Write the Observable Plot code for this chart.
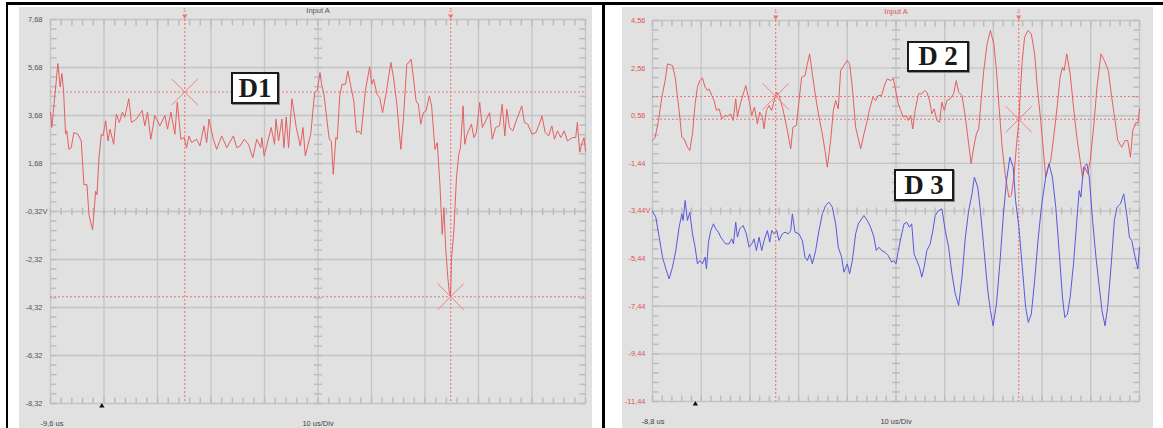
<!DOCTYPE html>
<html>
<head>
<meta charset="utf-8">
<script src="https://cdn.jsdelivr.net/npm/d3@7"></script>
<script src="https://cdn.jsdelivr.net/npm/@observablehq/plot@0.6"></script>
<style>
  body { margin: 0; background: #fff; }
  #wrap { position: relative; width: 1163px; height: 428px; overflow: hidden; font-family: "Liberation Sans", Arial, sans-serif; }
  .panel { position: absolute; top: 7px; height: 421px; background: #e1e1e1; }
  .panel svg { display: block; overflow: visible; }
  .bar { position: absolute; background: #000; }
  .tag { position: absolute; box-sizing: border-box; background: #fff; border: 2px solid #1a1a1a;
         font-family: "Liberation Serif", "Times New Roman", serif; font-weight: bold; font-size: 27px;
         color: #1a1a1a; display: flex; align-items: center; justify-content: center; line-height: 1;
         box-shadow: 1px 1px 0 #888; }
</style>
</head>
<body>
<div id="wrap">
  <div class="bar" style="left:6px;top:2px;width:1157px;height:3px;"></div>
  <div class="bar" style="left:6px;top:2px;width:2px;height:426px;"></div>
  <div class="bar" style="left:602px;top:2px;width:3px;height:426px;"></div>
  <div class="panel" id="left" style="left:19px;width:573px;"></div>
  <div class="panel" id="right" style="left:622px;width:531px;"></div>
  <div class="tag" style="left:231px;top:72px;width:48px;height:32px;">D1</div>
  <div class="tag" style="left:907px;top:41px;width:62px;height:31px;">D 2</div>
  <div class="tag" style="left:894px;top:169px;width:60px;height:32px;">D 3</div>
</div>
<script>
// ---------- axis ticks (divisions) ----------
const leftYTicks  = [7.68, 5.68, 3.68, 1.68, -0.32, -2.32, -4.32, -6.32, -8.32];
const leftXDivs   = [-9.6, 0.4, 10.4, 20.4, 30.4, 40.4, 50.4, 60.4, 70.4, 80.4, 90.4];
const rightYTicks = [4.56, 2.56, 0.56, -1.44, -3.44, -5.44, -7.44, -9.44, -11.44];
const rightXDivs  = [-8.8, 1.2, 11.2, 21.2, 31.2, 41.2, 51.2, 61.2, 71.2, 81.2, 91.2];
const leftStartLabel = "-9,6 us";
const rightStartLabel = "-8,8 us";
const divLabel = "10 us/Div";
const channelTitle = "Input A";

// ---------- cursors ----------
const leftCursorTimes  = [15.5, 65.2];
const leftCursorVolts  = [4.66, -3.87];
const rightCursorTimes = [16.5, 66.4];
const rightCursorVolts = [1.37, 0.41];
const leftCursorPoints  = [[15.5, 4.66], [65.2, -3.87]];
const rightCursorPoints = [[16.5, 1.37], [66.4, 0.41]];
const cursorNames = ["1", "2"];
const triggerTime = [0];

// ---------- traces [time us, volts] ----------
const d1 = [
[-9.6,3.82],[-9.35,3.18],[-8.22,5.85],[-7.79,4.87],[-7.47,5.43],[-7.16,4.73],[-6.79,2.90],[-6.54,3.04],
[-6.16,2.27],[-5.73,2.34],[-5.23,2.97],[-4.48,2.90],[-3.85,2.62],[-3.35,0.80],[-2.79,0.80],[-2.41,-0.46],
[-1.73,-1.09],[-1.16,0.52],[-0.91,0.38],[-0.54,1.92],[-0.10,2.90],[0.21,2.83],[0.71,3.46],[1.15,2.62],
[1.53,3.11],[2.21,2.48],[2.71,3.74],[3.28,3.39],[3.84,3.82],[4.28,3.61],[5.03,4.38],[5.53,3.39],
[6.46,3.53],[7.53,3.89],[8.03,3.25],[8.53,3.82],[9.15,2.69],[9.90,3.68],[10.84,3.25],[11.78,3.68],
[12.28,3.11],[12.90,3.82],[13.65,2.90],[14.09,4.24],[14.78,2.69],[15.40,2.76],[15.84,2.34],[16.28,2.83],
[16.78,2.55],[17.71,2.69],[18.34,2.41],[19.09,3.25],[19.59,2.55],[20.03,3.53],[20.84,2.69],[21.46,2.27],
[22.40,2.83],[23.34,2.34],[24.59,2.83],[25.21,2.34],[25.84,2.41],[26.59,2.69],[27.40,2.48],[28.21,1.92],
[28.96,2.69],[29.71,2.34],[29.90,2.76],[30.34,1.99],[31.65,3.18],[32.28,2.48],[32.53,3.53],[33.03,2.62],
[33.65,3.53],[34.03,2.34],[34.46,3.61],[34.90,2.34],[35.53,4.38],[36.34,3.18],[37.09,2.41],[37.59,3.18],
[38.03,1.99],[38.78,2.69],[39.04,2.90],[39.78,4.64],[40.28,4.73],[40.77,5.47],[41.08,4.98],[41.51,4.57],
[42.01,3.59],[42.51,2.69],[42.88,2.62],[43.25,1.23],[43.74,2.76],[43.99,2.69],[44.49,4.57],[44.92,4.98],
[45.54,4.98],[45.97,5.54],[46.47,4.98],[47.09,4.29],[47.58,2.97],[48.02,3.04],[48.45,2.90],[49.25,4.71],
[50.06,5.71],[50.43,4.98],[50.80,5.19],[51.42,4.57],[51.92,4.43],[52.47,3.80],[53.16,4.64],[54.02,5.89],
[54.52,5.26],[55.14,4.15],[55.88,2.27],[56.38,3.59],[57.00,5.82],[57.43,5.89],[57.80,6.03],[58.23,5.26],
[58.73,4.29],[59.16,4.15],[59.60,3.32],[60.09,3.80],[60.59,3.87],[61.21,4.50],[61.64,4.08],[62.26,2.27],
[62.69,2.55],[63.19,0.81],[63.62,-1.27],[63.93,-0.16],[64.30,-1.97],[64.67,-3.08],[64.92,-3.64],[65.17,-3.89],
[65.36,-2.25],[65.79,-1.13],[66.28,1.09],[66.72,2.06],[67.03,2.34],[67.52,4.08],[67.83,2.48],[68.26,2.90],
[69.07,3.32],[69.56,2.76],[70.00,2.97],[70.62,4.22],[71.11,3.18],[71.73,3.45],[72.48,3.80],[72.97,2.69],
[73.59,3.18],[74.33,3.25],[74.83,4.15],[75.32,2.83],[75.69,3.94],[76.19,3.18],[76.81,3.04],[77.43,3.45],
[77.92,3.73],[78.48,4.08],[78.98,3.39],[79.60,3.32],[80.40,2.90],[81.14,2.97],[81.76,3.32],[82.26,3.66],
[82.87,2.97],[83.50,2.83],[84.11,3.25],[84.61,2.69],[85.17,3.04],[85.79,2.76],[86.41,3.04],[87.03,2.62],
[87.46,2.69],[87.96,2.76],[88.57,2.76],[88.88,3.39],[89.32,2.15],[89.70,2.48],[90.13,2.76],[90.4,2.20]
];

const d2 = [
[-8.8,-0.48],[-8.25,-0.34],[-7.57,0.36],[-6.89,1.34],[-6.20,2.04],[-5.72,2.74],[-4.70,2.67],[-4.15,2.18],
[-3.33,0.78],[-2.78,-0.34],[-2.30,-0.41],[-1.62,-0.76],[-1.14,-0.90],[-0.59,-0.20],[-0.05,1.06],[0.43,1.76],
[0.91,2.04],[1.46,2.15],[2.00,1.76],[2.48,1.62],[2.82,1.69],[3.37,1.41],[3.85,1.20],[4.33,0.78],
[4.88,0.85],[5.42,0.43],[6.11,0.57],[6.58,0.53],[7.27,0.64],[7.75,0.36],[8.29,1.27],[8.64,0.50],
[8.98,0.85],[9.53,1.27],[10.35,1.83],[11.03,1.20],[11.58,0.57],[12.12,0.92],[12.74,0.22],[13.22,0.71],
[13.76,0.50],[14.11,0.01],[14.58,0.78],[15.13,0.99],[15.68,0.78],[16.16,1.20],[16.70,1.55],[17.18,1.41],
[17.87,0.92],[18.41,0.43],[18.89,-0.06],[19.58,-0.83],[20.05,0.08],[20.74,0.15],[21.29,1.20],[21.83,2.18],
[22.52,2.25],[23.00,2.74],[23.47,3.16],[24.02,2.32],[24.70,1.34],[25.39,0.50],[26.07,-0.20],[26.62,-0.90],
[27.10,-1.60],[27.78,-0.48],[28.33,0.78],[28.81,1.20],[29.35,0.85],[29.83,2.46],[30.51,2.67],[31.20,2.88],
[31.68,2.74],[32.23,1.76],[32.91,0.08],[33.94,-0.83],[34.62,-0.20],[35.30,0.36],[35.78,0.85],[36.47,1.34],
[37.01,1.20],[37.56,1.41],[38.24,1.41],[38.93,1.90],[39.41,2.11],[40.09,2.04],[40.65,2.11],[41.2,1.55],
[41.68,1.06],[42.16,0.78],[42.71,0.50],[43.26,0.57],[43.74,0.36],[44.22,0.57],[44.64,0.01],[45.12,0.78],
[45.81,1.48],[46.50,1.48],[47.05,1.62],[47.53,1.55],[48.08,1.20],[48.56,0.64],[49.04,0.85],[49.59,0.36],
[50.14,0.29],[50.62,1.13],[51.10,0.78],[51.65,1.20],[52.34,1.27],[53.03,1.48],[53.58,2.04],[54.06,1.55],
[54.75,1.41],[55.44,0.50],[56.12,-0.62],[56.61,-1.46],[57.16,-0.76],[57.71,-0.20],[58.19,0.01],[58.67,1.20],
[59.22,2.46],[59.91,3.58],[60.59,4.14],[61.28,3.58],[61.83,2.46],[62.31,1.06],[63.00,-0.76],[63.69,-2.02],
[64.38,-2.86],[64.86,-2.79],[65.41,-2.02],[65.96,-0.62],[66.44,0.36],[66.78,1.76],[67.13,2.88],[67.61,3.86],
[68.30,4.14],[68.98,4.00],[69.67,3.16],[70.22,1.76],[70.91,0.36],[71.46,-0.90],[71.94,-2.02],[72.42,-1.60],
[72.97,-1.32],[73.66,-0.20],[74.35,1.06],[74.90,2.18],[75.38,2.60],[75.72,2.46],[76.27,3.16],[76.96,2.32],
[77.65,0.92],[78.33,-0.34],[79.02,-1.32],[79.50,-2.02],[79.99,-1.60],[80.54,-1.88],[81.09,-1.32],[81.78,0.08],
[82.47,1.76],[83.29,3.16],[83.98,2.88],[84.80,2.46],[85.49,1.34],[86.18,0.36],[86.73,-0.48],[87.55,-0.76],
[88.24,-0.48],[88.79,-0.48],[89.34,-1.18],[89.82,-0.06],[90.51,0.29],[90.86,0.22],[91.2,0.85]
];

const d3v = [
[-8.8,-3.45],[-8.12,-3.70],[-7.43,-4.54],[-6.75,-5.38],[-6.06,-5.87],[-5.38,-6.29],[-4.70,-5.80],[-4.01,-5.10],
[-3.33,-4.12],[-2.78,-3.56],[-2.51,-3.84],[-2.10,-3.00],[-1.62,-3.84],[-1.14,-3.49],[-0.59,-4.40],[-0.05,-4.96],
[0.43,-5.66],[0.91,-5.52],[1.46,-5.66],[2.00,-5.38],[2.28,-5.87],[2.69,-4.75],[3.17,-4.26],[3.71,-3.98],
[4.19,-4.19],[4.74,-4.33],[5.22,-4.54],[5.70,-4.68],[6.24,-4.82],[6.93,-4.82],[7.47,-4.61],[7.82,-4.82],
[8.29,-3.91],[8.64,-4.54],[9.12,-4.19],[9.80,-4.05],[10.48,-4.40],[11.03,-4.96],[11.58,-4.82],[12.05,-4.61],
[12.53,-5.10],[13.08,-4.54],[13.63,-5.10],[14.11,-4.68],[14.79,-4.26],[15.27,-4.75],[15.68,-4.26],[16.16,-4.40],
[16.70,-4.26],[17.18,-4.68],[17.87,-4.40],[18.41,-4.33],[19.09,-4.40],[19.58,-4.26],[19.92,-3.56],[20.46,-4.33],
[21.29,-4.40],[21.97,-4.68],[22.52,-5.38],[23.00,-5.52],[23.47,-5.24],[24.02,-5.66],[24.70,-5.10],[25.39,-4.26],
[26.07,-3.56],[26.75,-3.21],[27.44,-3.07],[28.12,-3.28],[28.81,-3.98],[29.35,-4.96],[30.03,-5.38],[30.51,-6.01],
[31.20,-5.66],[31.68,-6.08],[32.23,-5.52],[32.91,-4.40],[33.46,-3.98],[34.14,-3.77],[34.62,-3.63],[35.30,-3.84],
[35.98,-4.12],[36.67,-4.54],[37.15,-5.10],[37.69,-4.96],[38.24,-5.10],[38.93,-5.17],[39.61,-5.31],[40.29,-5.59],
[40.77,-5.52],[41.2,-5.66],[41.68,-5.10],[42.37,-4.40],[42.85,-3.98],[43.40,-3.91],[43.95,-4.12],[44.43,-3.98],
[44.91,-5.24],[45.46,-5.52],[46.01,-5.80],[46.50,-6.22],[46.98,-5.80],[47.53,-5.10],[48.22,-4.82],[48.77,-4.26],
[49.25,-3.63],[49.93,-3.42],[50.62,-3.35],[51.31,-4.26],[52.00,-4.96],[52.69,-6.08],[53.37,-6.92],[54.06,-7.41],
[54.75,-6.22],[55.44,-4.54],[56.12,-3.42],[56.81,-2.72],[57.29,-2.02],[57.98,-2.44],[58.53,-3.42],[59.22,-4.96],
[60.04,-6.78],[60.59,-7.62],[61.14,-8.26],[61.83,-7.34],[62.52,-5.66],[63.21,-3.70],[63.89,-2.16],[64.58,-1.18],
[65.27,-1.60],[65.75,-3.00],[66.44,-4.12],[67.13,-5.80],[67.82,-7.48],[68.37,-8.12],[68.98,-7.77],[69.67,-6.36],
[70.36,-4.68],[71.05,-3.28],[71.94,-2.02],[72.63,-1.46],[73.32,-2.02],[74.01,-3.28],[74.69,-5.10],[75.38,-7.06],
[75.86,-7.91],[76.41,-7.77],[76.96,-7.06],[77.65,-5.66],[78.33,-3.84],[78.82,-2.58],[79.16,-2.86],[79.71,-1.60],
[80.40,-1.46],[80.88,-2.02],[81.57,-3.84],[82.26,-5.38],[82.95,-6.64],[83.50,-7.62],[84.12,-8.26],[84.66,-7.48],
[85.35,-5.80],[86.04,-3.84],[86.59,-3.28],[87.28,-3.14],[87.96,-2.72],[88.65,-3.70],[89.13,-4.54],[89.61,-4.68],
[90.30,-5.38],[90.86,-5.87],[91.2,-4.96]
];

// ---------- drawing ----------
const vTick = {draw(ctx, size) { const r = Math.sqrt(size / Math.PI); ctx.moveTo(0, -r); ctx.lineTo(0, r); }};
const hTick = {draw(ctx, size) { const r = Math.sqrt(size / Math.PI); ctx.moveTo(-r, 0); ctx.lineTo(r, 0); }};
const fmt = v => v.toFixed(2).replace(".", ",");
const steps = (start, n, step) => Array.from({length: n}, (_, i) => start + i * step);

function scope(cfg) {
  const xd = cfg.xDivs, yt = cfg.yTicks;
  const x0 = xd[0], x1 = xd[xd.length - 1], xc = xd[5];
  const y1 = yt[0], y0 = yt[yt.length - 1], yc = yt[4];
  const xMinor = steps(x0, 51, 2);
  const yMinor = steps(y0, 41, 0.4);
  const gridC = "#c4c4c4", tickC = "#bcbcbc", curC = "#f07474";
  const marks = [
    Plot.ruleX(xd, {stroke: gridC, strokeWidth: 1.3}),
    Plot.ruleY(yt, {stroke: gridC, strokeWidth: 1.3}),
    Plot.dot(xMinor, {x: d => d, y: () => y1, symbol: vTick, r: 3, dy: 3, stroke: tickC, fill: "none"}),
    Plot.dot(xMinor, {x: d => d, y: () => y0, symbol: vTick, r: 3, dy: -3, stroke: tickC, fill: "none"}),
    Plot.dot(xMinor, {x: d => d, y: () => yc, symbol: vTick, r: 3.5, stroke: tickC, fill: "none"}),
    Plot.dot(yMinor, {y: d => d, x: () => x0, symbol: hTick, r: 3, dx: 3, stroke: tickC, fill: "none"}),
    Plot.dot(yMinor, {y: d => d, x: () => x1, symbol: hTick, r: 3, dx: -3, stroke: tickC, fill: "none"}),
    Plot.dot(yMinor, {y: d => d, x: () => xc, symbol: hTick, r: 4, stroke: tickC, fill: "none"}),
    Plot.ruleX(cfg.curT, {stroke: curC, strokeWidth: 1.1, strokeDasharray: "2,2"}),
    Plot.ruleY(cfg.curV, {stroke: curC, strokeWidth: 1.1, strokeDasharray: "2,2"}),
  ];
  for (const s of cfg.series) {
    marks.push(Plot.line(s.data, {x: d => d[0], y: d => d[1], stroke: s.color, strokeWidth: 1}));
  }
  marks.push(
    Plot.dot(cfg.curPts, {x: d => d[0], y: d => d[1], symbol: "times", r: 12, stroke: "#f28282", strokeWidth: 1}),
    Plot.text(cursorNames, {x: (d, i) => cfg.curT[i], y: () => y1, text: d => d, dy: -9, fontSize: 6, fill: curC}),
    Plot.dot(cursorNames, {x: (d, i) => cfg.curT[i], y: () => y1, symbol: "triangle", rotate: 180, r: 2, dy: -3.5, fill: curC, stroke: "none"}),
    Plot.dot(triggerTime, {x: d => d, y: () => y0, symbol: "triangle", r: 2, dy: 2.5, fill: "#111", stroke: "none"}),
    Plot.text(yt, {x: () => x0, y: d => d, text: d => fmt(d), textAnchor: "end", dx: cfg.labDx, fontSize: 7.5, fill: cfg.labColor}),
    Plot.text(["V"], {x: () => x0, y: () => yc, text: d => d, textAnchor: "start", dx: cfg.labDx, fontSize: 7.5, fill: cfg.labColor}),
    Plot.text([channelTitle], {x: () => xc, y: () => y1, text: d => d, dy: -9, fontSize: 7.5, fill: cfg.titleColor}),
    Plot.text([divLabel], {x: () => xc, y: () => y0, text: d => d, dy: 20, fontSize: 7.5, fill: "#444"}),
    Plot.text([cfg.startLabel], {x: () => x0, y: () => y0, text: d => d, dy: 20, dx: cfg.startDx, textAnchor: "start", fontSize: 7.5, fill: "#444"})
  );
  return Plot.plot({
    width: cfg.width, height: cfg.height,
    marginLeft: cfg.mL, marginRight: cfg.mR, marginTop: cfg.mT, marginBottom: cfg.mB,
    x: {domain: [x0, x1], axis: null},
    y: {domain: [y0, y1], axis: null},
    style: {background: "transparent", fontFamily: "'Liberation Sans', Arial, sans-serif", overflow: "visible"},
    marks
  });
}

document.getElementById("left").appendChild(scope({
  width: 573, height: 421, mL: 31, mR: 7, mT: 12, mB: 25,
  xDivs: leftXDivs, yTicks: leftYTicks,
  curT: leftCursorTimes, curV: leftCursorVolts, curPts: leftCursorPoints,
  series: [{data: d1, color: "#e45f5f"}],
  labDx: -8, labColor: "#555", titleColor: "#555", startLabel: leftStartLabel, startDx: -10
}));

document.getElementById("right").appendChild(scope({
  width: 531, height: 421, mL: 30, mR: 14, mT: 13, mB: 27,
  xDivs: rightXDivs, yTicks: rightYTicks,
  curT: rightCursorTimes, curV: rightCursorVolts, curPts: rightCursorPoints,
  series: [{data: d2, color: "#e45f5f"}, {data: d3v, color: "#5858de"}],
  labDx: -7, labColor: "#e05252", titleColor: "#e05252", startLabel: rightStartLabel, startDx: -11
}));
</script>
</body>
</html>
